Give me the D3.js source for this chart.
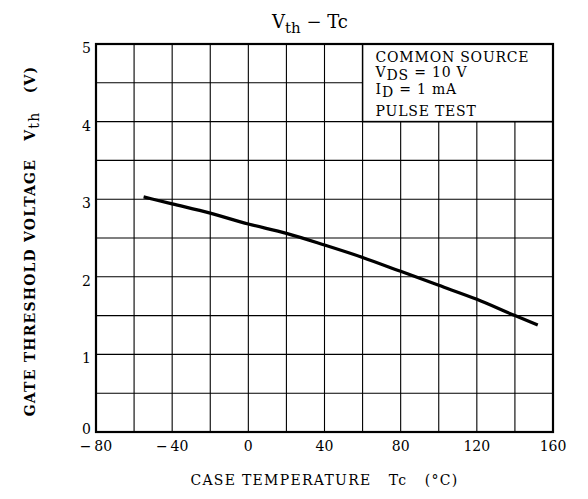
<!DOCTYPE html>
<html>
<head>
<meta charset="utf-8">
<script src="https://cdn.jsdelivr.net/npm/d3@7"></script>
<style>
  body { margin: 0; background: #fff; }
  svg text { font-family: "DejaVu Serif", "Liberation Serif", serif; fill: #000; }
</style>
</head>
<body>
<svg width="588" height="499"></svg>
<script>
// case temperature (°C) and threshold voltage (V)
var tempC = [-55, -40, -20, 0, 20, 40, 60, 80, 100, 120, 140, 152];
var vth = [3.03, 2.94, 2.82, 2.68, 2.56, 2.41, 2.25, 2.07, 1.89, 1.71, 1.50, 1.38];

var xTicks = [-80, -40, 0, 40, 80, 120, 160];
var yTicks = [0, 1, 2, 3, 4, 5];
var xGrid = d3.range(-80, 161, 20);
var yGrid = d3.range(0, 5.01, 0.5);

var conditions = [
    [{t: "COMMON SOURCE"}],
    [{t: "V"}, {t: "DS", sub: true}, {t: " = 10 V"}],
    [{t: "I"}, {t: "D", sub: true}, {t: " = 1 mA"}],
    [{t: "PULSE TEST"}]
];

var svg = d3.select("svg");
var margin = {top: 44, right: 35, bottom: 67, left: 96};
var width = +svg.attr("width") - margin.left - margin.right;
var height = +svg.attr("height") - margin.top - margin.bottom;

var x = d3.scaleLinear().domain([-80, 160]).range([0, width]);
var y = d3.scaleLinear().domain([0, 5]).range([height, 0]);

var g = svg.append("g").attr("transform", "translate(" + margin.left + "," + margin.top + ")");

// grid
g.selectAll(".vgrid").data(xGrid).enter().append("line")
    .attr("x1", function(d) { return x(d); })
    .attr("x2", function(d) { return x(d); })
    .attr("y1", 0).attr("y2", height)
    .attr("stroke", "#000").attr("stroke-width", 1.1);

g.selectAll(".hgrid").data(yGrid).enter().append("line")
    .attr("y1", function(d) { return y(d); })
    .attr("y2", function(d) { return y(d); })
    .attr("x1", 0).attr("x2", width)
    .attr("stroke", "#000").attr("stroke-width", 1.1);

// condition box covers the top right corner of the grid
g.append("rect")
    .attr("x", x(60)).attr("y", y(5))
    .attr("width", x(160) - x(60)).attr("height", y(4) - y(5))
    .attr("fill", "#fff").attr("stroke", "#000").attr("stroke-width", 1.5);

// frame
g.append("rect")
    .attr("width", width).attr("height", height)
    .attr("fill", "none").attr("stroke", "#000").attr("stroke-width", 2.2);

// curve
g.append("path")
    .datum(d3.zip(tempC, vth))
    .attr("fill", "none")
    .attr("stroke", "#000")
    .attr("stroke-width", 3.2)
    .attr("d", d3.line()
        .x(function(d) { return x(d[0]); })
        .y(function(d) { return y(d[1]); })
        .curve(d3.curveMonotoneX));

// tick labels
g.selectAll(".xlab").data(xTicks).enter().append("text")
    .attr("x", function(d) { return x(d); })
    .attr("y", height + 19)
    .attr("text-anchor", "middle")
    .style("font-size", "14px")
    .text(function(d) { return d < 0 ? "\u2212" + "\u2009" + (-d) : d; });

g.selectAll(".ylab").data(yTicks).enter().append("text")
    .attr("x", -5)
    .attr("y", function(d) { return y(d) + (d === 0 ? 2 : 9); })
    .attr("text-anchor", "end")
    .style("font-size", "14px")
    .text(function(d) { return d; });

// conditions text
var cond = g.append("text")
    .style("font-size", "14px")
    .style("letter-spacing", "0.8px");
conditions.forEach(function(line, i) {
    var lineY = [18, 33, 50, 72][i];
    line.forEach(function(part, j) {
        var ts = cond.append("tspan").text(part.t);
        if (j === 0) {
            ts.attr("x", x(60) + 13).attr("y", lineY);
        } else if (part.sub) {
            ts.attr("dy", 3);
        } else if (line[j - 1].sub) {
            ts.attr("dy", -3);
        }
    });
});

// title
var title = svg.append("text")
    .attr("x", 310).attr("y", 28)
    .attr("text-anchor", "middle")
    .style("font-size", "18px");
title.append("tspan").text("V");
title.append("tspan").attr("dy", 5).style("font-size", "15px").text("th");
title.append("tspan").attr("dy", -5).text("  \u2212  Tc");

// axis titles
svg.append("text")
    .attr("x", margin.left + width / 2)
    .attr("y", 485)
    .attr("text-anchor", "middle")
    .style("font-size", "14px")
    .style("letter-spacing", "1.3px")
    .style("white-space", "pre")
    .text("CASE TEMPERATURE   Tc   (\u00b0C)");

var ylab = svg.append("text")
    .attr("transform", "translate(35," + (margin.top + height / 2 + 3) + ") rotate(-90)")
    .attr("text-anchor", "middle")
    .style("font-size", "14px")
    .style("font-weight", "bold")
    .style("letter-spacing", "1.2px")
    .style("white-space", "pre");
ylab.append("tspan").text("GATE THRESHOLD VOLTAGE   V");
ylab.append("tspan").attr("dy", 4).style("font-weight", "normal").text("th");
ylab.append("tspan").attr("dy", -4).text("   (V)");
</script>
</body>
</html>
